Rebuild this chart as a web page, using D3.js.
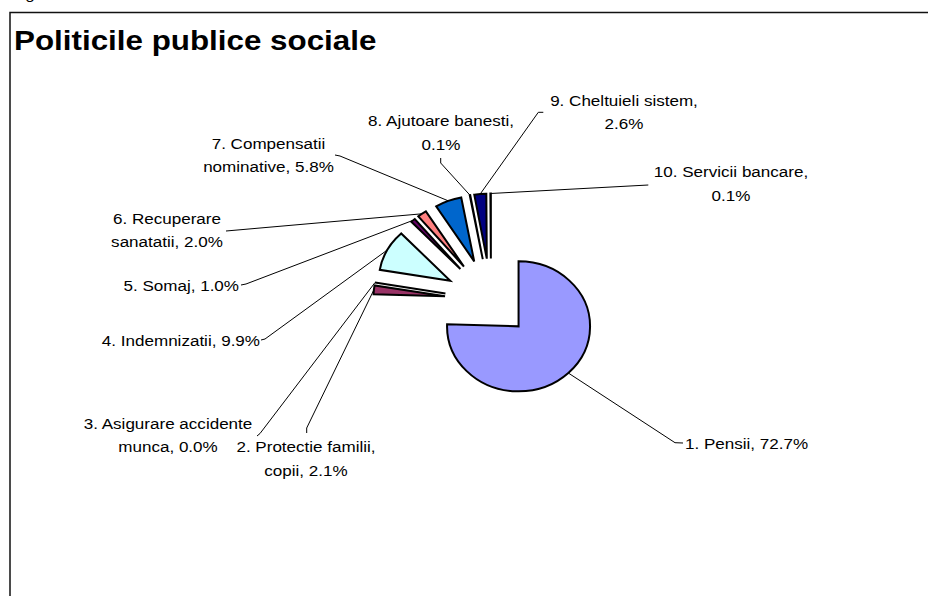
<!DOCTYPE html>
<html>
<head>
<meta charset="utf-8">
<script src="https://cdn.jsdelivr.net/npm/d3@7"></script>
<style>
  body { margin: 0; background: #fff; }
  svg { display: block; }
</style>
</head>
<body>
<svg id="chart" width="928" height="596"></svg>
<script>
// Spending shares of the social public policies (percent)
const categories = [
  "1. Pensii",
  "2. Protectie familii, copii",
  "3. Asigurare accidente munca",
  "4. Indemnizatii",
  "5. Somaj",
  "6. Recuperare sanatatii",
  "7. Compensatii nominative",
  "8. Ajutoare banesti",
  "9. Cheltuieli sistem",
  "10. Servicii bancare"
];
const shares = [72.7, 2.1, 0.0, 9.9, 1.0, 2.0, 5.8, 0.1, 2.6, 0.1];
const colors = ["#9999FF", "#993366", "#FFFFCC", "#CCFFFF", "#660066",
                "#FF8080", "#0066CC", "#CCCCFF", "#000080", "#FF00FF"];

// number of words kept on the first line of each label (0 = single line)
const wrapAfter = [0, 3, 3, 0, 0, 2, 2, 3, 3, 3];

// label placement: first-line centre, anchor, and the leader's label-side points
const labelLayout = [
  { x: 685, y: 443, anchor: "start",  leader: [[683, 443], [675, 442.7]] },
  { x: 306, y: 446.7, anchor: "middle", leader: [[306.7, 433], [306.7, 428]] },
  { x: 168, y: 423.3, anchor: "middle", leader: [[257, 436], [260, 433.5]] },
  { x: 260, y: 340, anchor: "end",    leader: [[261, 340], [265, 339]] },
  { x: 239, y: 285, anchor: "end",    leader: [[241, 285], [246, 284]] },
  { x: 167, y: 218.3, anchor: "middle", leader: [[226, 231]] },
  { x: 268.5, y: 143.3, anchor: "middle", leader: [[335, 155], [340, 156]] },
  { x: 441, y: 120.7, anchor: "middle", leader: [[440.7, 158], [440.7, 163]] },
  { x: 624, y: 100, anchor: "middle", leader: [[543.3, 112.3], [538.3, 112.3]] },
  { x: 731, y: 171.7, anchor: "middle", leader: [[648.3, 185]] }
];

const svg = d3.select("#chart");
const font = "'Liberation Sans', Arial, sans-serif";
const stretch = 1.1;        // horizontal stretch of the whole chart
const center = [491, 300.5];
const radius = 65;
const explode = shares.map((v, i) => i === 0 ? 36 : 42);
const lineH = 23.3;

// caption above the frame (sits mostly above the top edge)
svg.append("text")
  .attr("transform", `translate(11,-0.8) scale(${stretch},1)`)
  .attr("font-family", font).attr("font-size", 15.5)
  .text("Figura");

// chart frame
svg.append("rect")
  .attr("x", 10).attr("y", 12.5).attr("width", 1000).attr("height", 1000)
  .attr("fill", "none").attr("stroke", "#111").attr("stroke-width", 1.5);

// title
svg.append("text")
  .attr("transform", `translate(14,50) scale(1.12,1)`)
  .attr("font-family", font).attr("font-size", 28).attr("font-weight", "bold")
  .text("Politicile publice sociale");

const pie = d3.pie().sort(null).value(d => d)(shares);
const arc = d3.arc().innerRadius(0).outerRadius(radius);

const mid = d => (d.startAngle + d.endAngle) / 2;
const offset = (d, i) => [
  explode[i] * Math.sin(mid(d)),
  -explode[i] * Math.cos(mid(d))
];
// screen point on slice i at angle a and radius r
const point = (d, i, a, r) => {
  const [ox, oy] = offset(d, i);
  return [center[0] + (ox + r * Math.sin(a)) * stretch,
          center[1] + oy - r * Math.cos(a)];
};

// leader lines
const line = d3.line();
svg.append("g").selectAll("path")
  .data(pie)
  .join("path")
  .attr("d", (d, i) => line(labelLayout[i].leader.concat([point(d, i, mid(d), radius)])))
  .attr("fill", "none").attr("stroke", "#000").attr("stroke-width", 1);

// slices
svg.append("g").selectAll("path")
  .data(pie)
  .join("path")
  .attr("transform", (d, i) => {
    const [ox, oy] = offset(d, i);
    return `translate(${center[0] + ox * stretch},${center[1] + oy}) scale(${stretch},1)`;
  })
  .attr("d", arc)
  .attr("fill", (d, i) => colors[i])
  .attr("stroke", "#000").attr("stroke-width", 2)
  .attr("stroke-linejoin", "miter")
  .attr("vector-effect", "non-scaling-stroke");

// labels
const labels = svg.append("g")
  .attr("font-family", font).attr("font-size", 15.5).attr("fill", "#000");
pie.forEach((d, i) => {
  const full = `${categories[i]}, ${shares[i].toFixed(1)}%`;
  const words = full.split(" ");
  const lines = wrapAfter[i] ? [words.slice(0, wrapAfter[i]).join(" "), words.slice(wrapAfter[i]).join(" ")] : [full];
  const L = labelLayout[i];
  lines.forEach((t, k) => {
    labels.append("text")
      .attr("transform", `translate(${L.x},${L.y + k * lineH + 5.5}) scale(${stretch},1)`)
      .attr("text-anchor", L.anchor)
      .text(t);
  });
});
</script>
</body>
</html>
